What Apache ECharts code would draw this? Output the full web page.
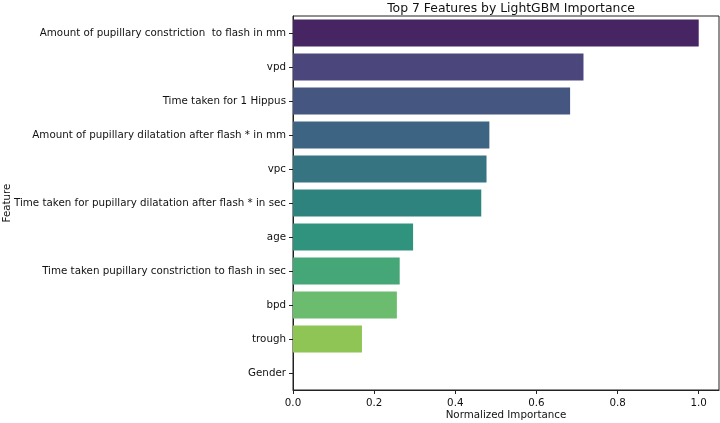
<!DOCTYPE html>
<html>
<head>
<meta charset="utf-8">
<script src="https://cdn.jsdelivr.net/npm/echarts@6/dist/echarts.min.js"></script>
<style>html,body{margin:0;padding:0;background:#fff}#c{width:720px;height:423px}</style>
</head>
<body>
<div id="c"></div>
<script>
const categories = [
  "Amount of pupillary constriction  to flash in mm",
  "vpd",
  "Time taken for 1 Hippus",
  "Amount of pupillary dilatation after flash * in mm",
  "vpc",
  "Time taken for pupillary dilatation after flash * in sec",
  "age",
  "Time taken pupillary constriction to flash in sec",
  "bpd",
  "trough",
  "Gender"
];
const importance = [1.0, 0.716, 0.683, 0.484, 0.477, 0.464, 0.296, 0.263, 0.256, 0.170, 0.0];
const xTicks = [0.0, 0.2, 0.4, 0.6, 0.8, 1.0];

// viridis samples (seaborn palette positions), desaturated 0.75 like seaborn barplot
const viridis = ["#481a6c","#433e85","#3b528b","#32658e","#297c8e","#21918c","#20a386","#35b779","#5ec962","#90d743","#c8e020"];
function desat(hex, f) {
  let r = parseInt(hex.slice(1,3),16)/255, g = parseInt(hex.slice(3,5),16)/255, b = parseInt(hex.slice(5,7),16)/255;
  const mx = Math.max(r,g,b), mn = Math.min(r,g,b);
  const l = (mx+mn)/2;
  let s = 0, h = 0;
  const d = mx - mn;
  if (d > 0) {
    s = l < 0.5 ? d/(mx+mn) : d/(2-mx-mn);
    if (mx === r) h = ((g-b)/d) % 6;
    else if (mx === g) h = (b-r)/d + 2;
    else h = (r-g)/d + 4;
    h /= 6; if (h < 0) h += 1;
  }
  s *= f;
  const q = l < 0.5 ? l*(1+s) : l+s-l*s, p = 2*l-q;
  function hue(t){ if(t<0)t+=1; if(t>1)t-=1; if(t<1/6)return p+(q-p)*6*t; if(t<1/2)return q; if(t<2/3)return p+(q-p)*(2/3-t)*6; return p; }
  const rr = Math.round(hue(h+1/3)*255), gg = Math.round(hue(h)*255), bb = Math.round(hue(h-1/3)*255);
  return "#" + [rr,gg,bb].map(v=>v.toString(16).padStart(2,"0")).join("");
}
const colors = viridis.map(c => desat(c, 0.75));

const chart = echarts.init(document.getElementById('c'), null, {renderer: 'canvas'});
const font = "DejaVu Sans";
chart.setOption({
  animation: false,
  backgroundColor: '#fff',
  textStyle: {fontFamily: font},
  title: {
    text: "Top 7 Features by LightGBM Importance",
    left: 506, top: -2, textAlign: 'center',
    textStyle: {fontFamily: font, fontSize: 12.4, fontWeight: 'normal', color: '#111'}
  },
  graphic: [{
    type: 'text', x: 7, y: 203, rotation: Math.PI / 2,
    style: {text: "Feature", fontFamily: font, fontSize: 10.3, fill: '#111', align: 'center', verticalAlign: 'middle'}
  }, {
    type: 'text', x: 506, y: 415,
    style: {text: "Normalized Importance", fontFamily: font, fontSize: 10.3, fill: '#111', align: 'center', verticalAlign: 'middle'}
  }],
  grid: {left: 293, right: 1, top: 16, bottom: 33, show: true, borderColor: '#222', borderWidth: 1,
    backgroundColor: 'transparent', outerBoundsMode: 'none', containLabel: false},
  xAxis: {
    type: 'value', min: 0, max: 1.05, interval: 0.2,
    axisLine: {show: true, lineStyle: {color: '#222', width: 1}},
    axisTick: {show: true, length: 4, lineStyle: {color: '#222'}, customValues: xTicks},
    axisLabel: {fontFamily: font, fontSize: 10.3, color: '#111', margin: 8, customValues: xTicks,
      formatter: v => v.toFixed(1)},
    splitLine: {show: false}
  },
  yAxis: {
    type: 'category', data: categories, inverse: true,
    axisLine: {show: true, lineStyle: {color: '#222', width: 1}},
    axisTick: {show: true, alignWithLabel: true, length: 4, lineStyle: {color: '#222'}},
    axisLabel: {fontFamily: font, fontSize: 10.3, color: '#111', margin: 7},
    splitLine: {show: false}
  },
  series: [{
    type: 'bar',
    barWidth: '80%',
    data: importance.map((v, i) => ({value: v, itemStyle: {color: colors[i]}}))
  }]
});
</script>
</body>
</html>
